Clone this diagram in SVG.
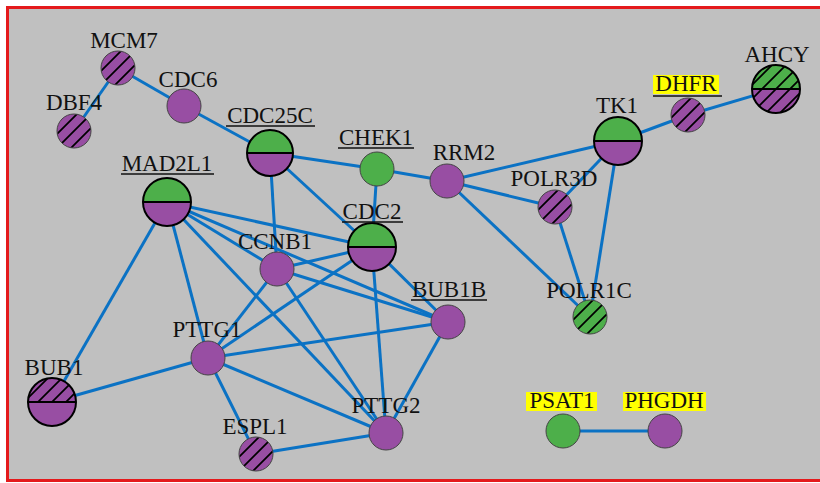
<svg xmlns="http://www.w3.org/2000/svg" width="820" height="483" viewBox="0 0 820 483">
<style>
.e{stroke:#0b72c4;stroke-width:3;fill:none}
.p{fill:#984ea3}
.g{fill:#4daf4a}
.s{stroke:#444;stroke-width:1}
.b{fill:none;stroke:#000;stroke-width:2}
.t{font-family:"Liberation Serif","Times New Roman",serif;font-size:23px;fill:#111;text-anchor:middle}
.u{stroke:#111;stroke-width:1.6}
.y{fill:#ffff00}
</style>
<defs>
<pattern id="hS" patternUnits="objectBoundingBox" x="0" y="0" width="1" height="1" patternContentUnits="userSpaceOnUse">
<g stroke="#000" stroke-width="1.8"><line x1="-10" y1="30" x2="30" y2="-10"/><line x1="-10" y1="44" x2="44" y2="-10"/><line x1="-10" y1="58" x2="58" y2="-10"/></g>
</pattern>
<pattern id="hL" patternUnits="objectBoundingBox" x="0" y="0" width="1" height="1" patternContentUnits="userSpaceOnUse">
<g stroke="#000" stroke-width="1.8"><line x1="-10" y1="30" x2="30" y2="-10"/><line x1="-10" y1="44" x2="44" y2="-10"/><line x1="-10" y1="58" x2="58" y2="-10"/><line x1="-10" y1="72" x2="72" y2="-10"/><line x1="-10" y1="86" x2="86" y2="-10"/></g>
</pattern>
</defs>
<rect x="0" y="0" width="820" height="483" fill="#fff"/>
<rect x="7.5" y="7.5" width="900" height="473" fill="#c0c0c0" stroke="#e41a1c" stroke-width="3"/>
<g id="edges">
<line class="e" x1="118" y1="68" x2="74" y2="131"/>
<line class="e" x1="118" y1="68" x2="184" y2="106"/>
<line class="e" x1="184" y1="106" x2="270" y2="153"/>
<line class="e" x1="270" y1="153" x2="377" y2="169"/>
<line class="e" x1="270" y1="153" x2="277" y2="269"/>
<line class="e" x1="270" y1="153" x2="372" y2="247"/>
<line class="e" x1="377" y1="169" x2="372" y2="247"/>
<line class="e" x1="377" y1="169" x2="447" y2="181"/>
<line class="e" x1="447" y1="181" x2="618" y2="141"/>
<line class="e" x1="447" y1="181" x2="555" y2="207"/>
<line class="e" x1="447" y1="181" x2="590" y2="317"/>
<line class="e" x1="618" y1="141" x2="555" y2="207"/>
<line class="e" x1="618" y1="141" x2="590" y2="317"/>
<line class="e" x1="555" y1="207" x2="590" y2="317"/>
<line class="e" x1="618" y1="141" x2="688" y2="115"/>
<line class="e" x1="688" y1="115" x2="776" y2="89"/>
<line class="e" x1="167" y1="202" x2="52" y2="402"/>
<line class="e" x1="167" y1="202" x2="208" y2="358"/>
<line class="e" x1="167" y1="202" x2="386" y2="433"/>
<line class="e" x1="167" y1="202" x2="277" y2="269"/>
<line class="e" x1="167" y1="202" x2="372" y2="247"/>
<line class="e" x1="167" y1="202" x2="448" y2="322"/>
<line class="e" x1="277" y1="269" x2="372" y2="247"/>
<line class="e" x1="277" y1="269" x2="208" y2="358"/>
<line class="e" x1="277" y1="269" x2="386" y2="433"/>
<line class="e" x1="277" y1="269" x2="448" y2="322"/>
<line class="e" x1="372" y1="247" x2="208" y2="358"/>
<line class="e" x1="372" y1="247" x2="386" y2="433"/>
<line class="e" x1="372" y1="247" x2="448" y2="322"/>
<line class="e" x1="208" y1="358" x2="448" y2="322"/>
<line class="e" x1="208" y1="358" x2="52" y2="402"/>
<line class="e" x1="208" y1="358" x2="256" y2="454"/>
<line class="e" x1="208" y1="358" x2="386" y2="433"/>
<line class="e" x1="256" y1="454" x2="386" y2="433"/>
<line class="e" x1="448" y1="322" x2="386" y2="433"/>
<line class="e" x1="563" y1="431" x2="665" y2="431"/>
</g>
<g id="MCM7"><circle class="p" cx="118" cy="68" r="17"/><circle cx="118" cy="68" r="17" fill="url(#hS)"/><circle class="s" cx="118" cy="68" r="17" fill="none"/><text class="t" x="124" y="48">MCM7</text></g>
<g id="DBF4"><circle class="p" cx="74" cy="131" r="17"/><circle cx="74" cy="131" r="17" fill="url(#hS)"/><circle class="s" cx="74" cy="131" r="17" fill="none"/><text class="t" x="74" y="110">DBF4</text></g>
<g id="CDC6"><circle class="p s" cx="184" cy="106" r="17"/><text class="t" x="188" y="87">CDC6</text></g>
<g id="CDC25C"><path class="g" d="M247 153A23 23 0 0 1 293 153Z"/><path class="p" d="M247 153A23 23 0 0 0 293 153Z"/><line class="b" x1="247" y1="153" x2="293" y2="153"/><circle class="b" cx="270" cy="153" r="23"/><text class="t" x="270" y="123">CDC25C</text><line class="u" x1="226" y1="126" x2="315" y2="126"/></g>
<g id="CHEK1"><circle class="g s" cx="377" cy="169" r="17"/><text class="t" x="376" y="145">CHEK1</text><line class="u" x1="338" y1="148" x2="414" y2="148"/></g>
<g id="RRM2"><circle class="p s" cx="447" cy="181" r="17"/><text class="t" x="464" y="160">RRM2</text></g>
<g id="TK1"><path class="g" d="M594 141A24 24 0 0 1 642 141Z"/><path class="p" d="M594 141A24 24 0 0 0 642 141Z"/><line class="b" x1="594" y1="141" x2="642" y2="141"/><circle class="b" cx="618" cy="141" r="24"/><text class="t" x="617" y="113">TK1</text></g>
<g id="DHFR"><rect class="y" x="653" y="75" width="66" height="19"/><line class="u" x1="653" y1="96" x2="722" y2="96"/><circle class="p" cx="688" cy="115" r="17"/><circle cx="688" cy="115" r="17" fill="url(#hS)"/><circle class="s" cx="688" cy="115" r="17" fill="none"/><text class="t" x="686" y="91">DHFR</text></g>
<g id="AHCY"><path class="g" d="M752 89A24 24 0 0 1 800 89Z"/><path class="p" d="M752 89A24 24 0 0 0 800 89Z"/><circle cx="776" cy="89" r="24" fill="url(#hL)"/><line class="b" x1="752" y1="89" x2="800" y2="89"/><circle class="b" cx="776" cy="89" r="24"/><text class="t" x="777" y="62">AHCY</text></g>
<g id="POLR3D"><circle class="p" cx="555" cy="207" r="17"/><circle cx="555" cy="207" r="17" fill="url(#hS)"/><circle class="s" cx="555" cy="207" r="17" fill="none"/><text class="t" x="554" y="186">POLR3D</text></g>
<g id="POLR1C"><circle class="g" cx="590" cy="317" r="17"/><circle cx="590" cy="317" r="17" fill="url(#hS)"/><circle class="s" cx="590" cy="317" r="17" fill="none"/><text class="t" x="589" y="298">POLR1C</text></g>
<g id="MAD2L1"><path class="g" d="M143 202A24 24 0 0 1 191 202Z"/><path class="p" d="M143 202A24 24 0 0 0 191 202Z"/><line class="b" x1="143" y1="202" x2="191" y2="202"/><circle class="b" cx="167" cy="202" r="24"/><text class="t" x="167" y="171">MAD2L1</text><line class="u" x1="121" y1="174" x2="214" y2="174"/></g>
<g id="CCNB1"><circle class="p s" cx="277" cy="269" r="17"/><text class="t" x="275" y="249">CCNB1</text></g>
<g id="CDC2"><path class="g" d="M348 247A24 24 0 0 1 396 247Z"/><path class="p" d="M348 247A24 24 0 0 0 396 247Z"/><line class="b" x1="348" y1="247" x2="396" y2="247"/><circle class="b" cx="372" cy="247" r="24"/><text class="t" x="372" y="219">CDC2</text><line class="u" x1="342" y1="222" x2="403" y2="222"/></g>
<g id="BUB1B"><circle class="p s" cx="448" cy="322" r="17"/><text class="t" x="449" y="297">BUB1B</text><line class="u" x1="411" y1="300" x2="487" y2="300"/></g>
<g id="PTTG1"><circle class="p s" cx="208" cy="358" r="17"/><text class="t" x="207" y="337">PTTG1</text></g>
<g id="BUB1"><path class="p" d="M28 402A24 24 0 0 1 76 402Z"/><path class="p" d="M28 402A24 24 0 0 0 76 402Z"/><path d="M28 402A24 24 0 0 1 76 402Z" fill="url(#hL)"/><line class="b" x1="28" y1="402" x2="76" y2="402"/><circle class="b" cx="52" cy="402" r="24"/><text class="t" x="54" y="375">BUB1</text></g>
<g id="ESPL1"><circle class="p" cx="256" cy="454" r="17"/><circle cx="256" cy="454" r="17" fill="url(#hS)"/><circle class="s" cx="256" cy="454" r="17" fill="none"/><text class="t" x="255" y="434">ESPL1</text></g>
<g id="PTTG2"><circle class="p s" cx="386" cy="433" r="17"/><text class="t" x="386" y="413">PTTG2</text></g>
<g id="PSAT1"><rect class="y" x="526" y="392" width="71" height="19"/><circle class="g s" cx="563" cy="431" r="17"/><text class="t" x="562" y="408">PSAT1</text></g>
<g id="PHGDH"><rect class="y" x="623" y="392" width="83" height="19"/><circle class="p s" cx="665" cy="431" r="17"/><text class="t" x="664" y="408">PHGDH</text></g>
</svg>
